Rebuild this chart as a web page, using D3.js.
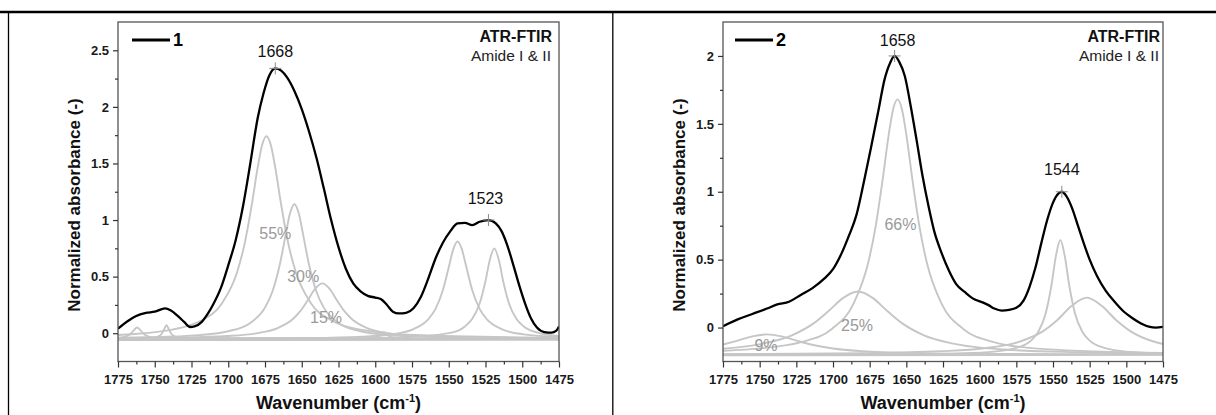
<!DOCTYPE html>
<html>
<head>
<meta charset="utf-8">
<script src="https://cdn.jsdelivr.net/npm/d3@7"></script>
<style>
  html, body { margin: 0; padding: 0; background: #fff; }
  svg { display: block; }
  text { font-family: "Liberation Sans", Arial, sans-serif; }
</style>
</head>
<body>
<svg id="chart" width="1216" height="415"></svg>
<script>
// ---------- axis ticks ----------
const wavenumberTicks = [1775, 1750, 1725, 1700, 1675, 1650, 1625, 1600, 1575, 1550, 1525, 1500, 1475];
const wavenumberMinor = [1762.5, 1737.5, 1712.5, 1687.5, 1662.5, 1637.5, 1612.5, 1587.5, 1562.5, 1537.5, 1512.5, 1487.5];
const absorbanceTicks1 = [0, 0.5, 1, 1.5, 2, 2.5];
const absorbanceMinor1 = [0.25, 0.75, 1.25, 1.75, 2.25];
const absorbanceTicks2 = [0, 0.5, 1, 1.5, 2];
const absorbanceMinor2 = [0.25, 0.75, 1.25, 1.75];

// ---------- sample 1: measured spectrum [wavenumber, absorbance] ----------
const spectrum1 = [
  [1775,0.04],[1768,0.11],[1763,0.15],[1756,0.18],[1750,0.19],[1743,0.22],[1739,0.20],[1735,0.16],
  [1730,0.10],[1726,0.055],[1723,0.06],[1718,0.10],[1714,0.17],[1710,0.26],[1705,0.40],[1700,0.60],
  [1695,0.82],[1690,1.12],[1685,1.50],[1680,1.90],[1676,2.12],[1672,2.28],[1668,2.34],[1664,2.32],
  [1660,2.26],[1655,2.14],[1650,1.98],[1645,1.78],[1640,1.55],[1635,1.28],[1630,1.00],[1625,0.76],
  [1620,0.57],[1615,0.44],[1610,0.37],[1605,0.33],[1600,0.315],[1596,0.30],[1592,0.25],[1588,0.19],
  [1584,0.175],[1579,0.18],[1574,0.22],[1569,0.32],[1564,0.48],[1559,0.66],[1554,0.80],[1549,0.90],
  [1544,0.97],[1539,0.975],[1534,0.955],[1529,0.985],[1523,1.00],[1518,0.97],[1514,0.90],[1510,0.77],
  [1506,0.60],[1502,0.42],[1498,0.26],[1494,0.13],[1490,0.05],[1485,0.01],[1480,0.005],[1477,0.02],[1475,0.06]
];

// sample 1: fitted bands
const band1a = [[1775,-0.016],[1739,0.029],[1724,0.08],[1719,0.108],[1704,0.27],[1694,0.539],[1689,0.783],
  [1684,1.135],[1680,1.462],[1677,1.661],[1674,1.74],[1671,1.661],[1668,1.462],[1664,1.135],[1659,0.783],
  [1654,0.539],[1644,0.27],[1629,0.108],[1609,0.029],[1574,-0.016],[1475,-0.041]];
const band1b = [[1775,-0.04],[1755,-0.036],[1720,-0.017],[1700,0.017],[1685,0.091],[1675,0.226],[1670,0.366],
  [1665,0.602],[1661,0.867],[1658,1.058],[1655,1.14],[1652,1.058],[1649,0.867],[1645,0.602],[1640,0.366],
  [1635,0.226],[1625,0.091],[1610,0.017],[1590,-0.017],[1555,-0.036],[1475,-0.046]];
const band1c = [[1775,-0.044],[1736,-0.039],[1701,-0.025],[1681,-0.001],[1666,0.048],[1656,0.126],[1651,0.195],
  [1646,0.289],[1641,0.391],[1636,0.44],[1631,0.391],[1626,0.289],[1621,0.195],[1616,0.126],[1606,0.048],
  [1591,-0.001],[1571,-0.025],[1536,-0.039],[1475,-0.046]];
const band1d = [[1775,-0.048],[1644,-0.0415],[1609,-0.03],[1589,-0.01],[1574,0.036],[1564,0.122],[1559,0.215],
  [1554,0.38],[1550,0.582],[1547,0.739],[1544,0.81],[1541,0.739],[1538,0.582],[1534,0.38],[1529,0.215],
  [1524,0.122],[1514,0.036],[1499,-0.01],[1475,-0.032]];
const band1e = [[1775,-0.049],[1619,-0.045],[1584,-0.038],[1549,0.003],[1539,0.06],[1534,0.127],[1529,0.262],
  [1525,0.462],[1522,0.651],[1519,0.75],[1516,0.651],[1513,0.462],[1509,0.262],[1504,0.127],[1499,0.06],
  [1489,0.003],[1475,-0.024]];
const band1f = [[1775,-0.041],[1770,-0.03],[1766,0.0],[1764,0.03],[1762,0.05],[1760,0.03],[1758,0.0],
  [1754,-0.03],[1745,-0.045],[1720,-0.049],[1475,-0.05]];
const band1g = [[1775,-0.05],[1752,-0.043],[1747,-0.026],[1745,-0.001],[1743.5,0.038],[1742,0.07],[1740.5,0.038],
  [1739,-0.001],[1737,-0.026],[1732,-0.043],[1715,-0.048],[1475,-0.05]];
const band1h = [[1775,-0.05],[1610,-0.048],[1600,-0.038],[1597,-0.02],[1595.5,-0.002],[1594,0.01],[1592.5,-0.002],
  [1591,-0.02],[1588,-0.038],[1578,-0.048],[1475,-0.05]];
const baseline1 = [[1775,-0.06],[1475,-0.058]];

// ---------- sample 2: measured spectrum ----------
const spectrum2 = [
  [1775,0.01],[1765,0.06],[1755,0.10],[1745,0.14],[1738,0.17],[1730,0.19],[1722,0.24],[1714,0.29],
  [1706,0.36],[1700,0.43],[1694,0.55],[1689,0.68],[1684,0.83],[1679,1.07],[1674,1.33],[1669,1.60],
  [1665,1.82],[1661,1.95],[1658,2.00],[1655,1.96],[1651,1.85],[1647,1.63],[1643,1.38],[1639,1.12],
  [1635,0.90],[1631,0.71],[1626,0.55],[1621,0.42],[1616,0.32],[1610,0.26],[1604,0.21],[1598,0.185],
  [1594,0.165],[1590,0.14],[1585,0.125],[1580,0.13],[1575,0.145],[1570,0.20],[1566,0.30],[1562,0.44],
  [1558,0.62],[1554,0.79],[1550,0.92],[1546,0.99],[1544,1.00],[1541,0.97],[1537,0.88],[1533,0.75],
  [1529,0.62],[1525,0.50],[1520,0.38],[1514,0.27],[1508,0.19],[1502,0.12],[1496,0.07],[1490,0.03],
  [1484,0.005],[1480,0.0],[1475,0.005]
];

// sample 2: fitted bands
const band2a = [[1775,-0.125],[1765,-0.096],[1755,-0.065],[1745,-0.05],[1735,-0.065],[1725,-0.096],[1715,-0.125],
  [1700,-0.154],[1680,-0.174],[1645,-0.188],[1595,-0.194],[1475,-0.198]];
const band2b = [[1775,-0.155],[1748,-0.118],[1728,-0.057],[1713,0.0325],[1703,0.122],[1693,0.2185],[1683,0.265],
  [1673,0.2185],[1663,0.122],[1653,0.0325],[1638,-0.057],[1618,-0.118],[1583,-0.162],[1533,-0.182],[1475,-0.1905]];
const band2c = [[1775,-0.171],[1756,-0.159],[1721,-0.105],[1701,-0.012],[1686,0.176],[1676,0.477],[1671,0.74],
  [1666,1.101],[1662,1.421],[1659,1.608],[1656,1.68],[1653,1.608],[1650,1.421],[1646,1.101],[1641,0.74],
  [1636,0.477],[1626,0.176],[1611,-0.012],[1591,-0.105],[1556,-0.159],[1475,-0.187]];
const band2d = [[1775,-0.199],[1645,-0.195],[1615,-0.19],[1590,-0.177],[1575,-0.15],[1565,-0.096],[1560,-0.031],
  [1555,0.104],[1551,0.315],[1548,0.528],[1545,0.645],[1542,0.528],[1539,0.315],[1535,0.104],[1530,-0.031],
  [1525,-0.096],[1515,-0.15],[1500,-0.177],[1475,-0.19]];
const band2e = [[1775,-0.196],[1677,-0.189],[1627,-0.175],[1597,-0.1525],[1572,-0.101],[1557,-0.028],[1547,0.056],
  [1537,0.162],[1527,0.22],[1517,0.162],[1507,0.056],[1497,-0.028],[1482,-0.101],[1475,-0.121]];
const baseline2 = [[1775,-0.205],[1475,-0.2]];

// peak positions and band shares
const peaks1 = [[1668, 2.34], [1523, 1.00]];
const peaks2 = [[1658, 2.00], [1544, 1.00]];
const shares1 = ["55%", "30%", "15%"];
const shares2 = ["66%", "25%", "9%"];

// ---------- drawing ----------
const svg = d3.select("#chart");
const FONT = "'Liberation Sans', Arial, sans-serif";

// outer figure frame
svg.append("line").attr("x1", 0).attr("x2", 1216).attr("y1", 12).attr("y2", 12)
  .attr("stroke", "#000").attr("stroke-width", 2.5);
svg.append("line").attr("x1", 8.5).attr("x2", 8.5).attr("y1", 12).attr("y2", 415)
  .attr("stroke", "#000").attr("stroke-width", 1.3);
svg.append("line").attr("x1", 612.8).attr("x2", 612.8).attr("y1", 12).attr("y2", 415)
  .attr("stroke", "#000").attr("stroke-width", 1.3);

function drawPanel(p) {
  const x = d3.scaleLinear().domain([1775, 1475]).range([p.left, p.right]);
  const y = d3.scaleLinear().domain(p.yDomain).range([p.bottom, p.top]);
  const g = svg.append("g");
  const clipId = "clip-" + p.id;
  g.append("clipPath").attr("id", clipId).append("rect")
    .attr("x", p.left).attr("y", p.top).attr("width", p.right - p.left).attr("height", p.bottom - p.top);

  const line = d3.line().x(d => x(d[0])).y(d => y(d[1])).curve(d3.curveMonotoneX);
  const plot = g.append("g").attr("clip-path", `url(#${clipId})`);

  p.bands.forEach(b => {
    plot.append("path").attr("d", line(b)).attr("fill", "none")
      .attr("stroke", "#c6c6c6").attr("stroke-width", 1.9);
  });
  plot.append("path").attr("d", line(p.spectrum)).attr("fill", "none")
    .attr("stroke", "#000").attr("stroke-width", 2.3).attr("stroke-linejoin", "round");

  // peak markers
  p.peaks.forEach((pk, i) => {
    const cx = x(pk[0]), cy = y(pk[1]);
    g.append("path").attr("d", `M${cx - 6},${cy}H${cx + 6}M${cx},${cy - 6}V${cy + 6}`)
      .attr("stroke", "#8a8a8a").attr("stroke-width", 1);
    g.append("text").attr("x", cx + p.peakDx[i]).attr("y", cy - p.peakDy[i])
      .attr("text-anchor", "middle").attr("font-size", 16).attr("fill", "#111")
      .text(pk[0]);
  });

  // band shares
  p.shares.forEach((s, i) => {
    const a = p.shareAt[i];
    g.append("text").attr("x", x(a[0])).attr("y", y(a[1]))
      .attr("text-anchor", "middle").attr("font-size", 16).attr("fill", "#9a9a9a")
      .text(s);
  });

  // frame
  g.append("rect").attr("x", p.left).attr("y", p.top)
    .attr("width", p.right - p.left).attr("height", p.bottom - p.top)
    .attr("fill", "none").attr("stroke", "#555").attr("stroke-width", 1.3);

  // x axis
  g.append("g").attr("transform", `translate(0,${p.bottom})`)
    .call(d3.axisBottom(x).tickValues(wavenumberTicks).tickFormat(d3.format("d"))
      .tickSize(6).tickSizeOuter(0).tickPadding(7));
  g.append("g").attr("transform", `translate(0,${p.bottom})`)
    .call(d3.axisBottom(x).tickValues(wavenumberMinor).tickFormat("").tickSize(3).tickSizeOuter(0));
  // y axis
  g.append("g").attr("transform", `translate(${p.left},0)`)
    .call(d3.axisLeft(y).tickValues(p.yTicks).tickFormat(d => String(d))
      .tickSize(5).tickSizeOuter(0).tickPadding(4));
  g.append("g").attr("transform", `translate(${p.left},0)`)
    .call(d3.axisLeft(y).tickValues(p.yMinor).tickFormat("").tickSize(3).tickSizeOuter(0));

  g.selectAll(".domain").remove();
  g.selectAll(".tick line").attr("stroke", "#333").attr("stroke-width", 1.2);
  g.selectAll(".tick text").attr("font-family", FONT).attr("font-weight", "bold")
    .attr("font-size", 13).attr("fill", "#1a1a1a");

  // axis titles
  const xt = g.append("text").attr("x", (p.left + p.right) / 2).attr("y", 409)
    .attr("text-anchor", "middle").attr("font-size", 18).attr("font-weight", "bold").attr("fill", "#111");
  xt.append("tspan").text("Wavenumber (cm");
  xt.append("tspan").attr("font-size", 11).attr("dy", -7).text("-1");
  xt.append("tspan").attr("dy", 7).text(")");
  g.append("text").attr("transform", `translate(${p.left - 38},205) rotate(-90)`)
    .attr("text-anchor", "middle").attr("font-size", 17).attr("font-weight", "bold").attr("fill", "#111")
    .text("Normalized absorbance (-)");

  // legend
  g.append("line").attr("x1", p.legendX).attr("x2", p.legendX + 38).attr("y1", 40).attr("y2", 40)
    .attr("stroke", "#000").attr("stroke-width", 3);
  g.append("text").attr("x", p.legendX + 41).attr("y", 46).attr("font-size", 18)
    .attr("font-weight", "bold").attr("fill", "#000").text(p.name);

  // technique label
  g.append("text").attr("x", p.right - p.noteInset).attr("y", 42).attr("text-anchor", "end")
    .attr("font-size", 16).attr("font-weight", "bold").attr("fill", "#111").text("ATR-FTIR");
  g.append("text").attr("x", p.right - p.noteInset - 1).attr("y", 61).attr("text-anchor", "end")
    .attr("font-size", 15.5).attr("fill", "#222").text("Amide I & II");
}

drawPanel({
  id: "a", name: "1", left: 118, right: 559, top: 22, bottom: 361.5,
  yDomain: [-0.25, 2.75], yTicks: absorbanceTicks1, yMinor: absorbanceMinor1,
  spectrum: spectrum1,
  bands: [baseline1, band1f, band1g, band1h, band1a, band1b, band1c, band1d, band1e],
  peaks: peaks1, peakDx: [0, -3], peakDy: [11, 16],
  shares: shares1, shareAt: [[1668, 0.83], [1649, 0.45], [1633.5, 0.094]],
  noteInset: 7, legendX: 132
});
drawPanel({
  id: "b", name: "2", left: 723, right: 1163, top: 22, bottom: 361.5,
  yDomain: [-0.25, 2.25], yTicks: absorbanceTicks2, yMinor: absorbanceMinor2,
  spectrum: spectrum2,
  bands: [baseline2, band2a, band2b, band2c, band2d, band2e],
  peaks: peaks2, peakDx: [3, 0], peakDy: [10, 17],
  shares: shares2, shareAt: [[1654, 0.722], [1683.6, -0.023], [1745.7, -0.175]],
  noteInset: 3, legendX: 735
});
</script>
</body>
</html>
